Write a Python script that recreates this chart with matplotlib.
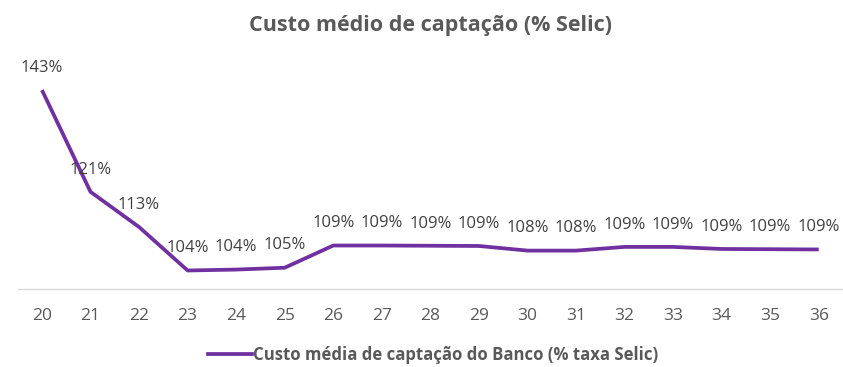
import matplotlib
matplotlib.use("Agg")
import matplotlib.pyplot as plt
from matplotlib.lines import Line2D

plt.rcParams['font.family'] = ['Open Sans', 'DejaVu Sans']

# Monthly average funding cost as % of the Selic rate
periods = ['20', '21', '22', '23', '24', '25', '26', '27', '28',
           '29', '30', '31', '32', '33', '34', '35', '36']
custo_pct = [143.0, 121.0, 113.4, 104.0, 104.2, 104.6, 109.4, 109.4, 109.35,
             109.3, 108.3, 108.3, 109.1, 109.1, 108.65, 108.6, 108.55]

title = 'Custo médio de captação (% Selic)'
series_label = 'Custo média de captação do Banco (% taxa Selic)'

LINE = '#7030A0'
GRAY = '#595959'
LABEL = '#404040'

W, H = 843, 367
fig = plt.figure(figsize=(W / 100, H / 100), dpi=100)
ax = fig.add_axes([17.7 / W, 1 - 289 / H, (843 - 17.7) / W, (289 - 57.7) / H])

x = list(range(len(periods)))
ax.plot(x, custo_pct, color=LINE, lw=2.7, solid_joinstyle='round',
        solid_capstyle='butt', zorder=3)

for xi, v in zip(x, custo_pct):
    ax.annotate(f'{v:.0f}%', (xi, v), xytext=(0, 16), textcoords='offset points',
                ha='center', va='center', fontsize=12, color=LABEL)

ax.set_xlim(-0.5, len(periods) - 0.5)
ax.set_ylim(100, 150)
ax.set_xticks(x)
ax.set_xticklabels(periods, fontsize=12.5, color=GRAY)
ax.tick_params(axis='x', length=0, pad=14)
ax.set_yticks([])
for side in ('top', 'left', 'right'):
    ax.spines[side].set_visible(False)
ax.spines['bottom'].set_color('#D9D9D9')
ax.spines['bottom'].set_linewidth(1.0)

fig.text(0.511, 1 - 25 / H, title, ha='center', va='center',
         fontsize=15.5, fontweight='bold', color=GRAY)

handle = Line2D([], [], color=LINE, lw=2.7)
fig.legend([handle], [series_label], loc='center', bbox_to_anchor=(0.514, 1 - 355 / H),
           frameon=False, handlelength=2.6, handletextpad=0.08,
           prop={'size': 12.1, 'weight': 'bold'}, labelcolor=GRAY)

fig.savefig('out.png', dpi=100)
